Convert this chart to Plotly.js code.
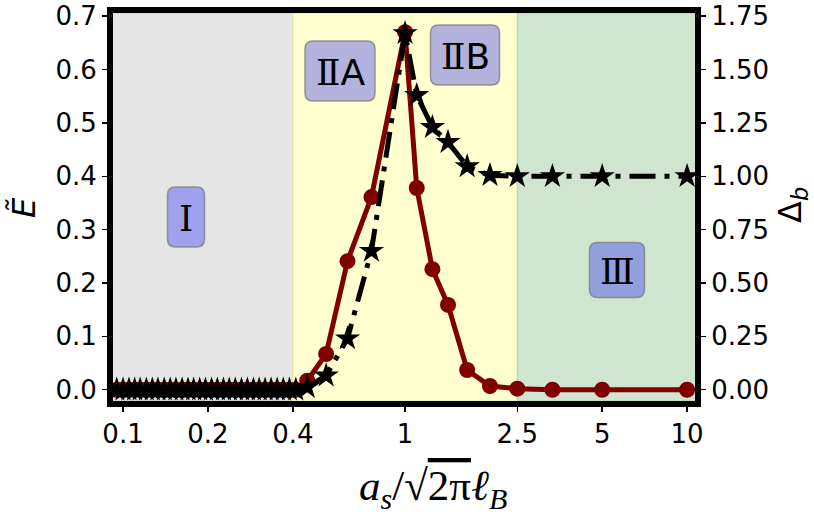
<!DOCTYPE html>
<html>
<head>
<meta charset="utf-8">
<script src="https://cdn.plot.ly/plotly-3.0.1.min.js"></script>
<style>html,body{margin:0;padding:0;background:#fff;}#chart{width:814px;height:523px;}</style>
</head>
<body>
<div id="chart"></div>
<script>
// ---- data ----
const xVals = [0.095, 0.1, 0.105, 0.11, 0.115, 0.121, 0.127, 0.133, 0.14, 0.147, 0.154, 0.162, 0.17, 0.178, 0.187, 0.196, 0.206, 0.216, 0.227, 0.238, 0.25, 0.263, 0.276, 0.29, 0.304, 0.319, 0.335, 0.352, 0.37, 0.389, 0.41,
               0.45, 0.525, 0.625, 0.76, 1.0, 1.1, 1.25, 1.42, 1.66, 2.0, 2.5, 3.33, 5, 10];
const eTilde = [0, 0, 0, 0, 0, 0, 0, 0, 0, 0, 0, 0, 0, 0, 0, 0, 0, 0, 0, 0, 0, 0, 0, 0, 0, 0, 0, 0, 0, 0, 0,
                0.017, 0.067, 0.241, 0.361, 0.670, 0.378, 0.226, 0.159, 0.037, 0.007, 0.002, 0.0, 0.0, 0.0];
const deltaB = [0, 0, 0, 0, 0, 0, 0, 0, 0, 0, 0, 0, 0, 0, 0, 0, 0, 0, 0, 0, 0, 0, 0, 0, 0, 0, 0, 0, 0, 0, 0,
                0.012, 0.066, 0.24, 0.65, 1.67, 1.38, 1.23, 1.16, 1.046, 1.005, 1.0, 1.0, 1.0, 1.0];
const xTickVals = [0.1, 0.2, 0.4, 1, 2.5, 5, 10];
const xTickText = ["0.1", "0.2", "0.4", "1", "2.5", "5", "10"];
const yTickVals = [0, 0.1, 0.2, 0.3, 0.4, 0.5, 0.6, 0.7];
const y2TickVals = [0, 0.25, 0.5, 0.75, 1.0, 1.25, 1.5, 1.75];
const regionBounds = [0.4, 2.5];
const regionNumerals = ["Ⅰ", "Ⅱ", "Ⅱ", "Ⅲ"];
const regionSuffix = ["", "A", "B", ""];

// ---- layout geometry ----
const W = 814, H = 523;
const M = {l: 113, r: 119, t: 13, b: 122};
const PW = W - M.l - M.r, PH = H - M.t - M.b;
const xRange = [-1.0355, 1.028];
const yRange = [-0.0211, 0.706];
const y2Range = [yRange[0] * 2.5, yRange[1] * 2.5];

function px2paperX(px) { return (px - M.l) / PW; }
function px2paperY(py) { return (M.t + PH - py) / PH; }
function roundRect(cx, cy, w, h, r) {
  const x0 = cx - w / 2, x1 = cx + w / 2, y0 = cy - h / 2, y1 = cy + h / 2;
  const P = (x, y) => px2paperX(x).toFixed(5) + "," + px2paperY(y).toFixed(5);
  return "M" + P(x0 + r, y0) + " L" + P(x1 - r, y0) + " Q" + P(x1, y0) + " " + P(x1, y0 + r) +
         " L" + P(x1, y1 - r) + " Q" + P(x1, y1) + " " + P(x1 - r, y1) +
         " L" + P(x0 + r, y1) + " Q" + P(x0, y1) + " " + P(x0, y1 - r) +
         " L" + P(x0, y0 + r) + " Q" + P(x0, y0) + " " + P(x0 + r, y0) + " Z";
}

const boxes = [
  {cx: 186, cy: 217, w: 37, h: 60},
  {cx: 340, cy: 71, w: 70, h: 60},
  {cx: 465, cy: 55, w: 69, h: 60},
  {cx: 617, cy: 270, w: 55, h: 55}
];

const shapes = [
  {type: "rect", xref: "x", yref: "paper", x0: 0.05, x1: regionBounds[0], y0: 0, y1: 1,
   fillcolor: "#e5e5e5", line: {width: 1, color: "#d0d0c0"}, layer: "below"},
  {type: "rect", xref: "x", yref: "paper", x0: regionBounds[0], x1: regionBounds[1], y0: 0, y1: 1,
   fillcolor: "#ffffcf", line: {width: 1, color: "#e6e6a8"}, layer: "below"},
  {type: "rect", xref: "x", yref: "paper", x0: regionBounds[1], x1: 20, y0: 0, y1: 1,
   fillcolor: "#cfe5cf", line: {width: 1, color: "#b6d9a0"}, layer: "below"}
];
boxes.forEach(b => shapes.push({type: "path", xref: "paper", yref: "paper", path: roundRect(b.cx, b.cy, b.w, b.h, 8),
  fillcolor: "rgba(0,0,255,0.3)", line: {color: "rgba(128,128,128,0.8)", width: 1.5}, layer: "above"}));

const annotations = boxes.map((b, i) => ({
  xref: "paper", yref: "paper", x: px2paperX(b.cx), y: px2paperY(b.cy + 1),
  text: "<span style='font-family:DejaVu Serif'>" + regionNumerals[i] + "</span>" + regionSuffix[i],
  showarrow: false, xanchor: "center", yanchor: "middle",
  font: {family: "DejaVu Sans", size: 36, color: "#000"}
}));
annotations.push({
  xref: "paper", yref: "paper", x: px2paperX(433), y: px2paperY(489),
  text: "<i>a</i><sub><i>s</i></sub>/√<span style='text-decoration:overline'>2π</span><i>ℓ</i><sub><i>B</i></sub>",
  showarrow: false, xanchor: "center", yanchor: "middle",
  font: {family: "Liberation Serif", size: 43, color: "#000"}
});
annotations.push({
  xref: "paper", yref: "paper", x: px2paperX(24), y: px2paperY(208),
  text: "<i>Ẽ</i>", showarrow: false, textangle: -90, xanchor: "center", yanchor: "middle",
  font: {family: "DejaVu Sans", size: 32, color: "#000"}
});
annotations.push({
  xref: "paper", yref: "paper", x: px2paperX(792), y: px2paperY(205),
  text: "Δ<sub><i>b</i></sub>", showarrow: false, textangle: -90, xanchor: "center", yanchor: "middle",
  font: {family: "DejaVu Sans", size: 32, color: "#000"}
});

const traces = [
  {x: xVals, y: eTilde, yaxis: "y", mode: "lines+markers", name: "E",
   line: {color: "#800000", width: 5},
   marker: {symbol: "circle", size: 16, color: "#800000"}},
  {x: xVals, y: deltaB, yaxis: "y2", mode: "lines+markers", name: "Delta",
   line: {color: "#000", width: 5, dash: "26px,9px,5px,9px"},
   marker: {symbol: "star", size: 19, color: "#000"}}
];

const tickFont = {family: "DejaVu Sans", size: 26, color: "#000"};
const layout = {
  width: W, height: H, margin: M, showlegend: false,
  paper_bgcolor: "#fff", plot_bgcolor: "#fff",
  xaxis: {type: "log", range: xRange, tickvals: xTickVals, ticktext: xTickText,
    ticks: "outside", ticklen: 5, tickwidth: 1.5, tickcolor: "#000",
    showline: true, linewidth: 6, linecolor: "#000", mirror: true,
    showgrid: false, zeroline: false, tickfont: tickFont},
  yaxis: {range: yRange, tickvals: yTickVals, tickformat: ".1f",
    ticks: "outside", ticklen: 5, tickwidth: 1.5, tickcolor: "#000",
    showline: true, linewidth: 6, linecolor: "#000", mirror: true,
    showgrid: false, zeroline: false, tickfont: tickFont},
  yaxis2: {range: y2Range, tickvals: y2TickVals, tickformat: ".2f", overlaying: "y", side: "right",
    ticks: "outside", ticklen: 5, tickwidth: 1.5, tickcolor: "#000",
    showline: true, linewidth: 6, linecolor: "#000",
    showgrid: false, zeroline: false, tickfont: tickFont},
  shapes: shapes,
  annotations: annotations
};

Plotly.newPlot("chart", traces, layout, {displayModeBar: false, staticPlot: true});
</script>
</body>
</html>
